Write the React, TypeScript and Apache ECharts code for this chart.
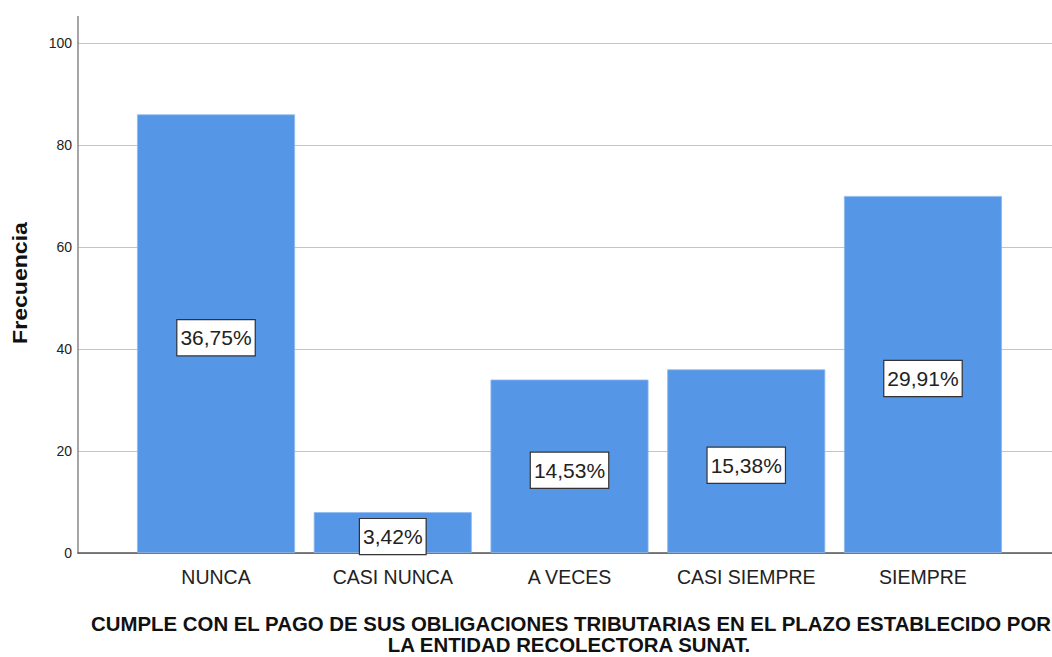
import React, { useEffect, useRef } from "react";
import * as echarts from "echarts";

const categories = ["NUNCA", "CASI NUNCA", "A VECES", "CASI SIEMPRE", "SIEMPRE"];
const frequencies = [86, 8, 34, 36, 70];
const percentLabels = ["36,75%", "3,42%", "14,53%", "15,38%", "29,91%"];
const yTicks = { min: 0, max: 100, interval: 20 };
const yTitle = "Frecuencia";
const xTitleLines = [
  "CUMPLE CON EL PAGO DE SUS OBLIGACIONES TRIBUTARIAS EN EL PLAZO ESTABLECIDO POR",
  "LA ENTIDAD RECOLECTORA SUNAT.",
];

export default function App() {
  const ref = useRef<HTMLDivElement>(null);
  useEffect(() => {
    if (!ref.current) return;
    const chart = echarts.init(ref.current, undefined, { renderer: "svg" });
    const font = "Arial, 'Liberation Sans', sans-serif";
    chart.setOption({
      animation: false,
      backgroundColor: "#ffffff",
      grid: { left: 78, right: 0, top: 43, bottom: 104, containLabel: false },
      xAxis: {
        type: "value",
        min: -0.781,
        max: 4.73,
        axisLine: { show: true, onZero: false, lineStyle: { color: "#555555", width: 1.5 } },
        axisTick: { show: false },
        splitLine: { show: false },
        axisLabel: {
          customValues: categories.map((_, i) => i),
          formatter: (v: number) => categories[Math.round(v)] ?? "",
          color: "#222222",
          fontSize: 19.5,
          fontFamily: font,
          margin: 14,
        },
      },
      yAxis: {
        type: "value",
        min: yTicks.min,
        max: yTicks.max,
        interval: yTicks.interval,
        axisLine: { show: true, onZero: false, lineStyle: { color: "#888888", width: 1.5 } },
        axisTick: { show: false },
        splitLine: { show: true, lineStyle: { color: "#c4c4c4", width: 1.2 } },
        axisLabel: { color: "#222222", fontSize: 14, fontFamily: font, margin: 6 },
      },
      series: [
        {
          type: "bar",
          data: frequencies.map((v, i) => [i, v]),
          barWidth: 158,
          itemStyle: { color: "#5596e6", borderColor: "#8fb9ee", borderWidth: 0.8 },
          label: {
            show: true,
            position: "inside",
            offset: [0, 4],
            formatter: (p: any) => percentLabels[p.dataIndex],
            color: "#222222",
            fontSize: 21,
            fontFamily: font,
            backgroundColor: "#ffffff",
            borderColor: "#333333",
            borderWidth: 1.2,
            padding: [8, 3, 6, 3],
          },
        },
      ],
      graphic: [
        {
          type: "line",
          shape: { x1: 78, y1: 16, x2: 78, y2: 43 },
          style: { stroke: "#888888", lineWidth: 1.5 },
        },
        {
          type: "text",
          x: 20,
          y: 283,
          rotation: Math.PI / 2,
          scaleX: 1.1,
          style: {
            text: yTitle,
            font: `bold 21px ${font}`,
            fill: "#111111",
            align: "center",
            verticalAlign: "middle",
          },
        },
        {
          type: "text",
          x: 571,
          y: 624,
          style: {
            text: xTitleLines[0],
            font: `bold 20.4px ${font}`,
            fill: "#111111",
            align: "center",
            verticalAlign: "middle",
          },
        },
        {
          type: "text",
          x: 569,
          y: 645,
          style: {
            text: xTitleLines[1],
            font: `bold 20.4px ${font}`,
            fill: "#111111",
            align: "center",
            verticalAlign: "middle",
          },
        },
      ],
    });
    return () => chart.dispose();
  }, []);
  return (
    <div
      ref={ref}
      style={{ position: "fixed", left: 0, top: 0, width: 1052, height: 657 }}
    />
  );
}
